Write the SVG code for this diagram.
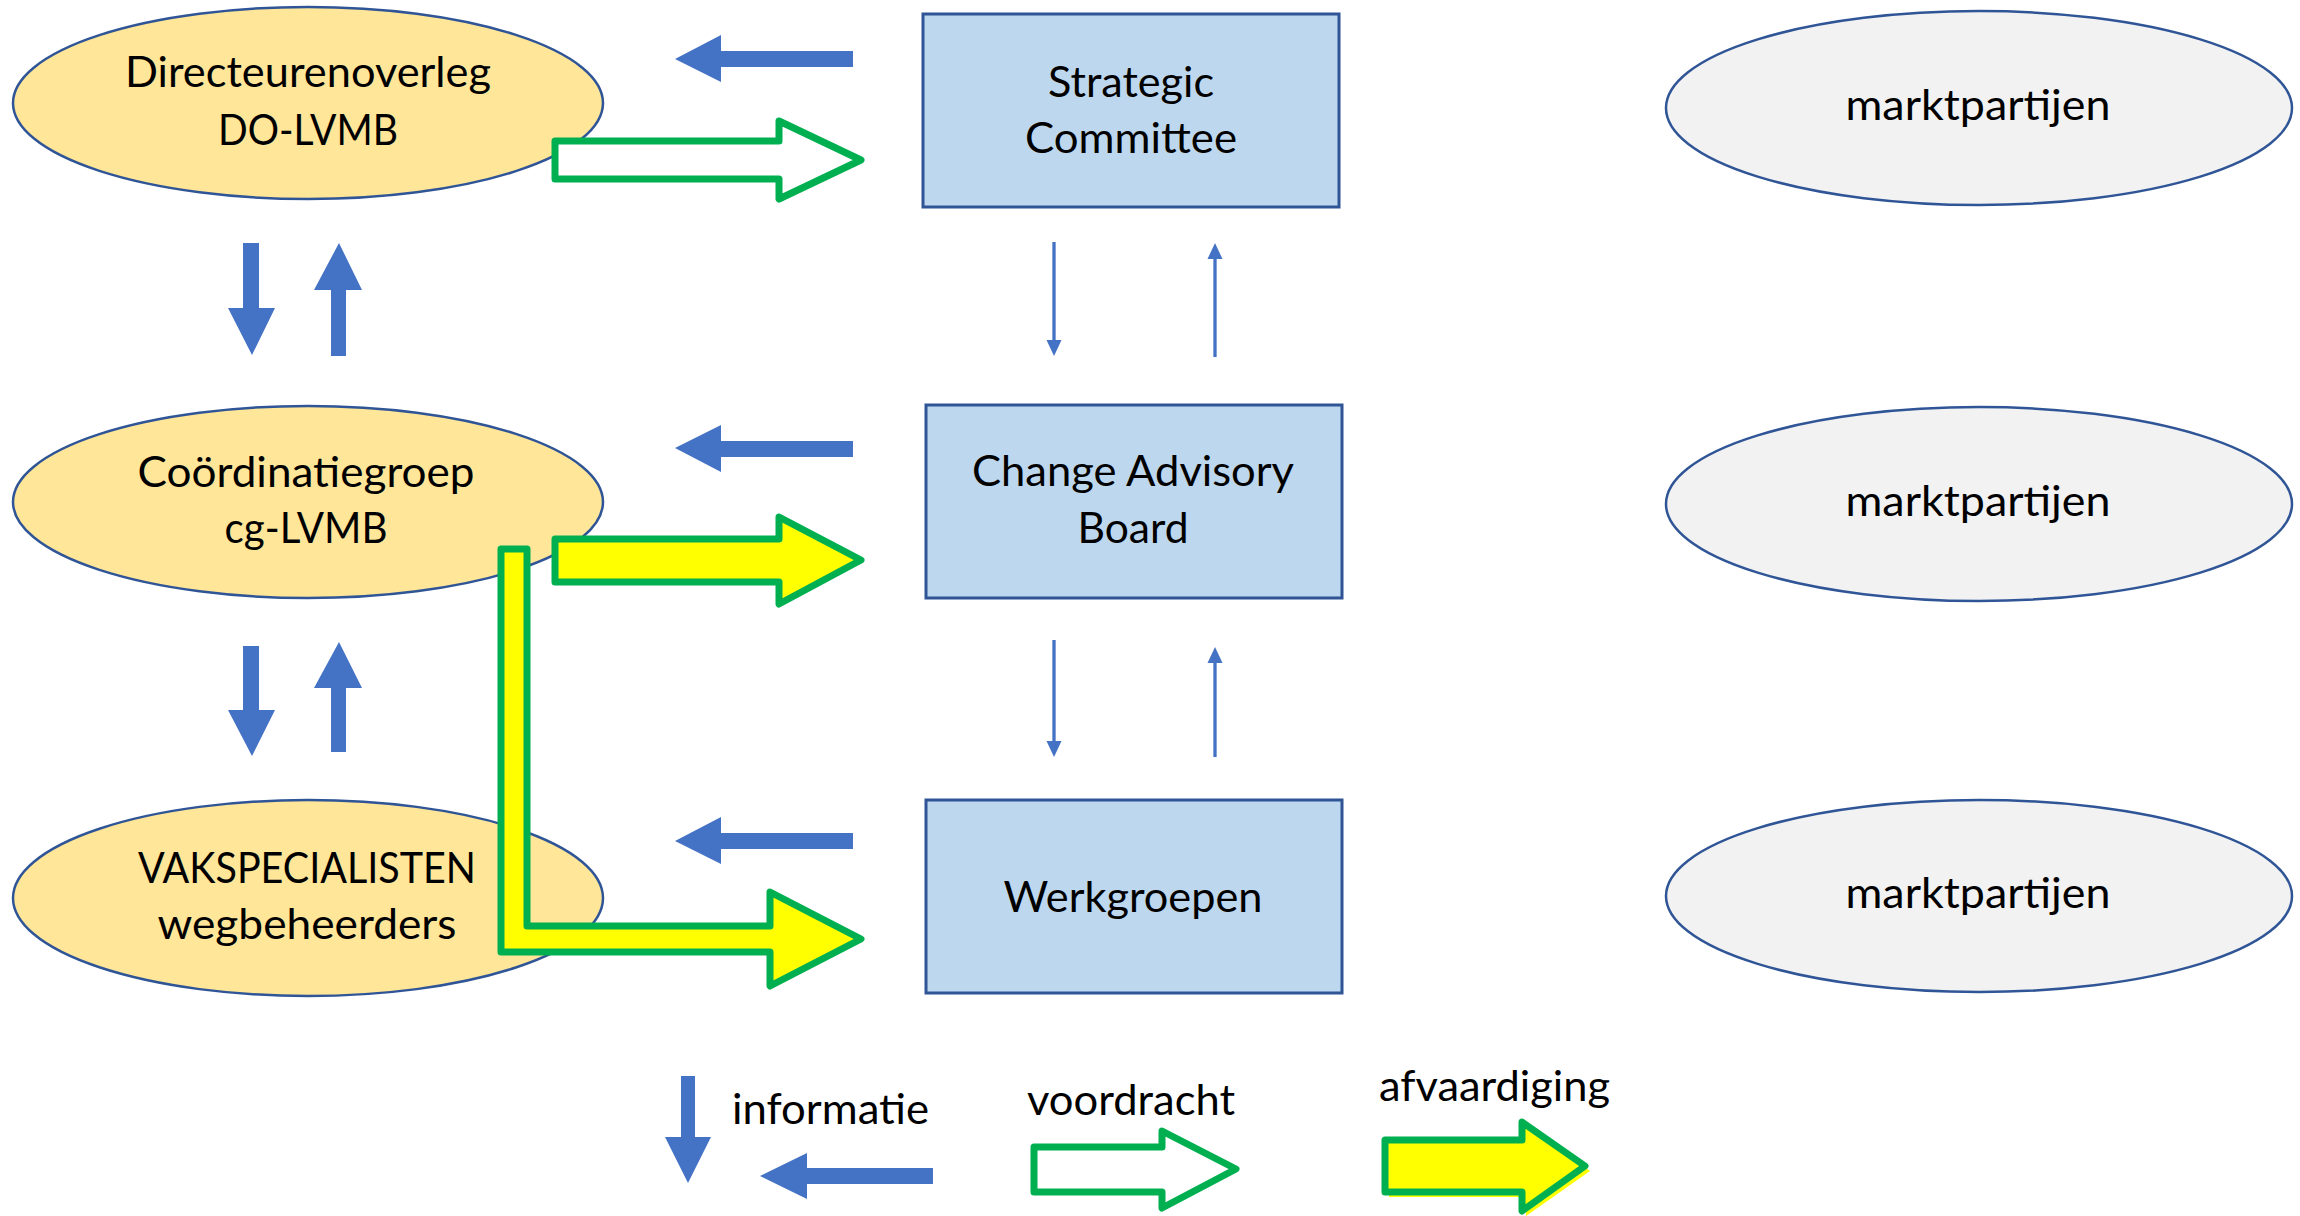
<svg xmlns="http://www.w3.org/2000/svg" width="2300" height="1216" viewBox="0 0 2300 1216">
<style>
.org{fill:#FFE699;stroke:#2F5597;stroke-width:2.5}
.mkt{fill:#F2F2F2;stroke:#2F5597;stroke-width:2.5}
.box{fill:#BDD7EE;stroke:#2F5597;stroke-width:3}
.t{font-family:Lato,"Open Sans",sans-serif;font-size:43px;fill:#000;text-anchor:middle}
.tl{font-family:Lato,"Open Sans",sans-serif;font-size:43px;fill:#000;text-anchor:start}
.blue{fill:#4472C4}
.thin{stroke:#4472C4;stroke-width:3.3;fill:none}
.vd{fill:#FFFFFF;stroke:#00B050;stroke-width:7;stroke-linejoin:round}
.af{fill:#FFFF00;stroke:#00B050;stroke-width:7;stroke-linejoin:round}
</style>
<defs>
<marker id="ah" viewBox="0 0 16 16" markerWidth="16" markerHeight="16" markerUnits="userSpaceOnUse" refX="6" refY="8" orient="auto">
<path d="M0,0.5 L16,8 L0,15.5 Z" fill="#4472C4"/>
</marker>
</defs>
<rect width="2300" height="1216" fill="#FFFFFF"/>

<g id="node-directeurenoverleg">
<ellipse class="org" cx="308" cy="103" rx="295" ry="96"/>
<text class="t" x="308" y="87" textLength="366" lengthAdjust="spacingAndGlyphs">Directeurenoverleg</text>
<text class="t" x="308" y="145" textLength="180" lengthAdjust="spacingAndGlyphs">DO-LVMB</text>
</g>
<g id="node-coordinatiegroep">
<ellipse class="org" cx="308" cy="502" rx="295" ry="96"/>
<text class="t" x="306" y="487" textLength="337" lengthAdjust="spacingAndGlyphs">Coördinatiegroep</text>
<text class="t" x="306" y="543" textLength="163" lengthAdjust="spacingAndGlyphs">cg-LVMB</text>
</g>
<g id="node-vakspecialisten">
<ellipse class="org" cx="308" cy="898" rx="295" ry="98"/>
<text class="t" x="307" y="883" textLength="338" lengthAdjust="spacingAndGlyphs">VAKSPECIALISTEN</text>
<text class="t" x="307" y="939" textLength="299" lengthAdjust="spacingAndGlyphs">wegbeheerders</text>
</g>

<g id="node-strategic-committee">
<rect class="box" x="923" y="14" width="416" height="193"/>
<text class="t" x="1131" y="97" textLength="166" lengthAdjust="spacingAndGlyphs">Strategic</text>
<text class="t" x="1131" y="153" textLength="212" lengthAdjust="spacingAndGlyphs">Committee</text>
</g>
<g id="node-change-advisory-board">
<rect class="box" x="926" y="405" width="416" height="193"/>
<text class="t" x="1133" y="486" textLength="322" lengthAdjust="spacingAndGlyphs">Change Advisory</text>
<text class="t" x="1133" y="543" textLength="111" lengthAdjust="spacingAndGlyphs">Board</text>
</g>
<g id="node-werkgroepen">
<rect class="box" x="926" y="800" width="416" height="193"/>
<text class="t" x="1133" y="912" textLength="259" lengthAdjust="spacingAndGlyphs">Werkgroepen</text>
</g>

<g id="node-marktpartijen-1">
<ellipse class="mkt" cx="1979" cy="108" rx="313" ry="97"/>
<text class="t" x="1978" y="120" textLength="265" lengthAdjust="spacingAndGlyphs">marktpartijen</text>
</g>
<g id="node-marktpartijen-2">
<ellipse class="mkt" cx="1979" cy="504" rx="313" ry="97"/>
<text class="t" x="1978" y="516" textLength="265" lengthAdjust="spacingAndGlyphs">marktpartijen</text>
</g>
<g id="node-marktpartijen-3">
<ellipse class="mkt" cx="1979" cy="896" rx="313" ry="96"/>
<text class="t" x="1978" y="908" textLength="265" lengthAdjust="spacingAndGlyphs">marktpartijen</text>
</g>

<g id="connectors">
<polygon class="blue" points="675,59 721,35 721,51 853,51 853,67 721,67 721,82"/>
<polygon class="blue" points="675,448 721,425 721,441 853,441 853,457 721,457 721,472"/>
<polygon class="blue" points="675,841 721,817 721,833 853,833 853,849 721,849 721,864"/>

<polygon class="blue" points="243,243 259,243 259,308 275,308 252,355 228,308 243,308"/>
<polygon class="blue" points="339,243 362,290 346,290 346,356 331,356 331,290 314,290"/>
<polygon class="blue" points="243,646 259,646 259,710 275,710 252,756 228,710 243,710"/>
<polygon class="blue" points="339,642 362,688 346,688 346,752 331,752 331,688 314,688"/>

<line class="thin" x1="1054" y1="242" x2="1054" y2="346" marker-end="url(#ah)"/>
<line class="thin" x1="1215" y1="357" x2="1215" y2="253" marker-end="url(#ah)"/>
<line class="thin" x1="1054" y1="640" x2="1054" y2="747" marker-end="url(#ah)"/>
<line class="thin" x1="1215" y1="757" x2="1215" y2="657" marker-end="url(#ah)"/>

<path class="vd" d="M555,141 L779,141 L779,121 L861,160 L779,199 L779,179 L555,179 Z"/>
<path class="af" d="M555,539 L779,539 L779,517 L861,560 L779,604 L779,582 L555,582 Z"/>
<path class="af" d="M501,549 L527,549 L527,926 L770,926 L770,892 L861,939 L770,986 L770,952 L501,952 Z"/>
</g>

<g id="legend">
<polygon class="blue" points="681,1076 695,1076 695,1137 711,1137 688,1183 665,1137 681,1137"/>
<polygon class="blue" points="760,1176 807,1153 807,1168 933,1168 933,1184 807,1184 807,1199"/>
<text class="tl" x="732" y="1124" textLength="197" lengthAdjust="spacingAndGlyphs">informatie</text>
<text class="tl" x="1027" y="1115" textLength="208" lengthAdjust="spacingAndGlyphs">voordracht</text>
<path class="vd" d="M1034,1147 L1162,1147 L1162,1131 L1236,1169 L1162,1208 L1162,1192 L1034,1192 Z"/>
<text class="tl" x="1379" y="1101" textLength="231" lengthAdjust="spacingAndGlyphs">afvaardiging</text>
<path d="M1389,1145 L1526,1145 L1526,1127 L1590,1171 L1526,1216 L1526,1197 L1389,1197 Z" fill="#FFFF00"/>
<path class="af" d="M1385,1140 L1522,1140 L1522,1122 L1585,1166 L1522,1211 L1522,1192 L1385,1192 Z"/>
</g>
</svg>
